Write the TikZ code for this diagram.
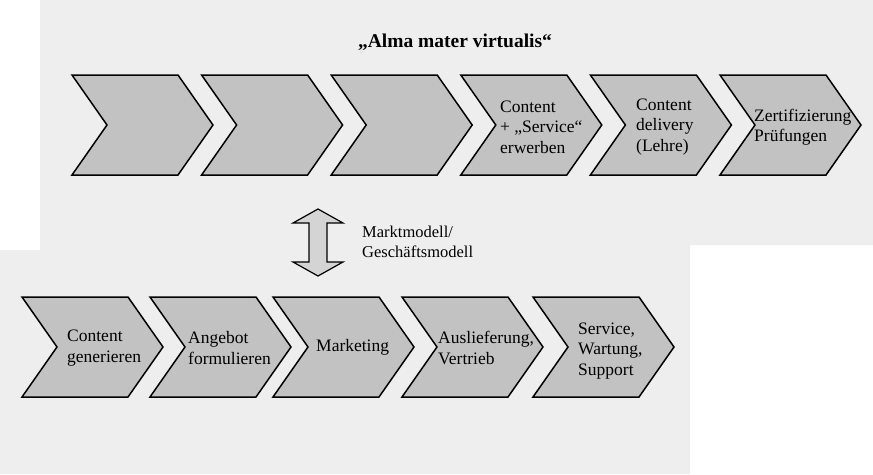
\documentclass[tikz,border=0pt]{standalone}
\usepackage{fontspec}
\setmainfont{Liberation Serif}
\usepackage{tikz}
\definecolor{paper}{RGB}{238,238,238}
\definecolor{chevgray}{RGB}{194,194,194}
\definecolor{arrowgray}{RGB}{212,212,212}
\tikzset{
  chevron/.pic={
    \draw[line width=1.5pt, line join=miter, fill=chevgray]
      (0,0) -- (106,0) -- (141,50) -- (106,100) -- (0,100) -- (35,50) -- cycle;
  },
  steplabel/.style={anchor=west, align=left, inner sep=0pt,
    font=\fontsize{17.5}{20.5}\selectfont},
}

\begin{document}
\begin{tikzpicture}[x=1pt, y=-1pt]
        \useasboundingbox (0,0) rectangle (873,474);
        % scanned page tone
        \fill[paper] (40,0) -- (873,0) -- (873,245) -- (690,245) -- (690,474)
          -- (0,474) -- (0,250) -- (40,250) -- cycle;
        % title
        \node[font=\fontsize{19.5}{22}\selectfont\bfseries] (title) at (455,42) {„Alma mater virtualis“};
        % upper chain
        \pic at (72,75)    {chevron};
        \pic at (201.6,75) {chevron};
        \pic at (331.2,75) {chevron};
        \pic at (460.8,75) {chevron};
        \pic at (590.4,75) {chevron};
        \pic at (720,75)   {chevron};
        \node[steplabel] (buy)     at (500,127) {Content\\+ „Service“\\erwerben};
        \node[steplabel] (deliver) at (636,127) {Content\\delivery\\(Lehre)};
        \node[steplabel] (exam)    at (754,127) {Zertifizierung\\Prüfungen};
        % double arrow between the chains
        \draw[line width=1.2pt, line join=miter, fill=arrowgray]
          (318,209) -- (343,223) -- (327,223) -- (327,262) -- (343,262) -- (318,276)
          -- (293,262) -- (309,262) -- (309,223) -- (293,223) -- cycle;
        \node[anchor=west, align=left, inner sep=0pt, font=\fontsize{16.5}{19.5}\selectfont]
          (model) at (362,242) {Marktmodell/\\Geschäftsmodell};
        % lower chain
        \pic at (22,297)  {chevron};
        \pic at (150,297) {chevron};
        \pic at (273,297) {chevron};
        \pic at (402,297) {chevron};
        \pic at (533,297) {chevron};
        \node[steplabel] (gen)     at (67,348)  {Content\\generieren};
        \node[steplabel] (offer)   at (188,348) {Angebot\\formulieren};
        \node[steplabel] (market)  at (316,347) {Marketing};
        \node[steplabel] (ship)    at (438,348) {Auslieferung,\\Vertrieb};
        \node[steplabel] (support) at (578,351) {Service,\\Wartung,\\Support};
      \end{tikzpicture}
\end{document}
